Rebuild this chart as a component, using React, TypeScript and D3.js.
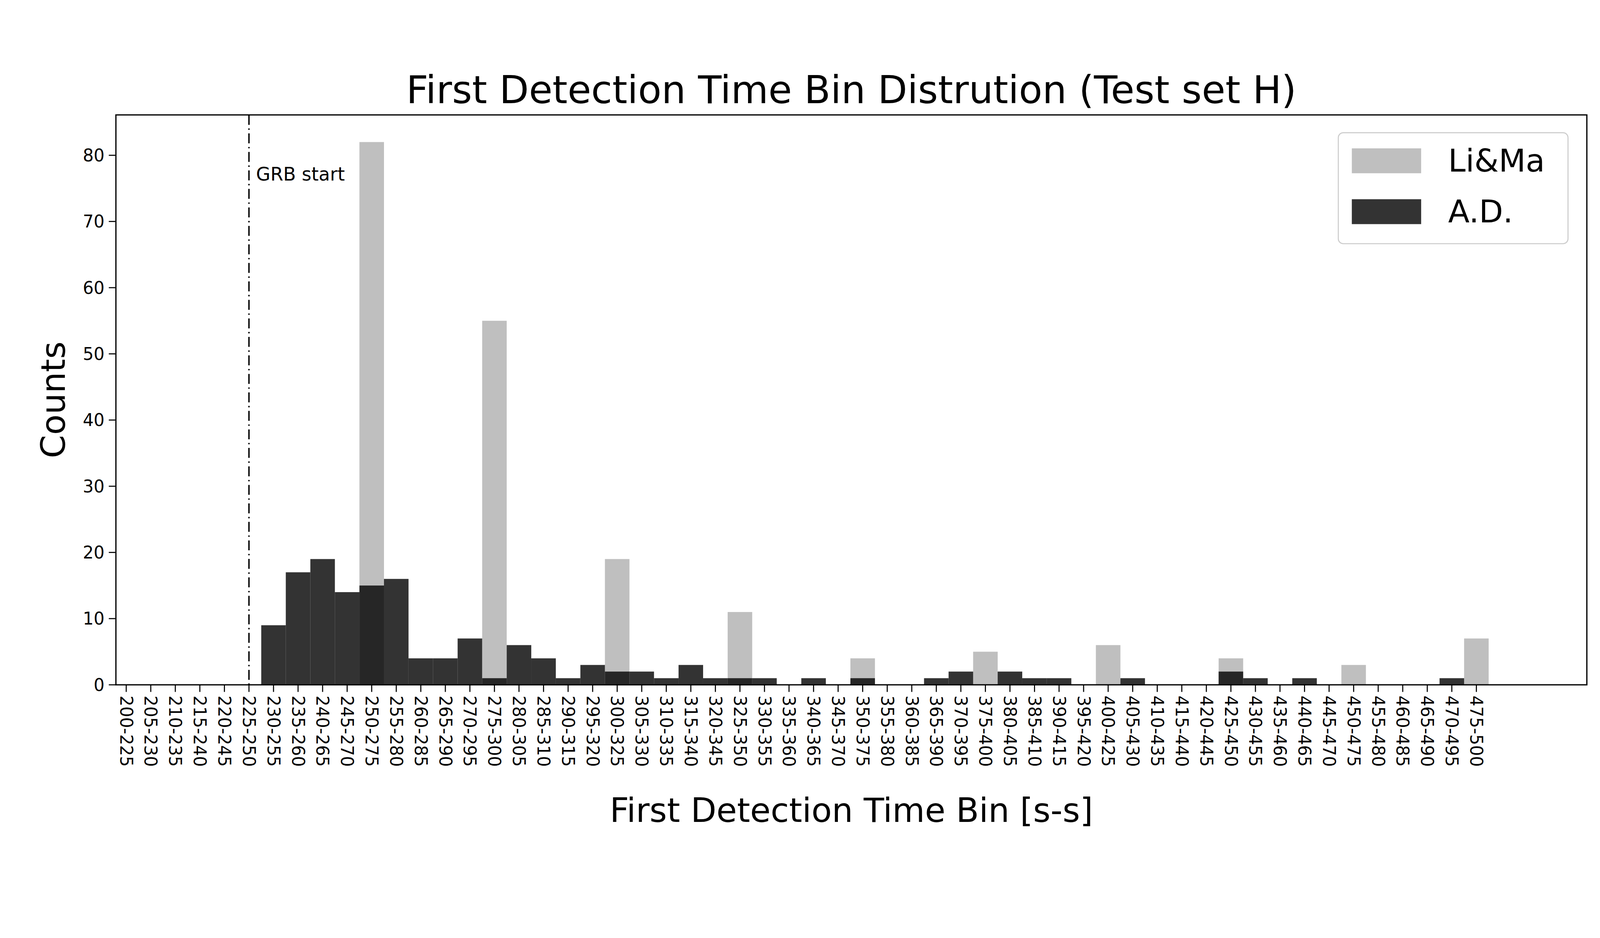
import React from "react";
import * as d3 from "d3";

const binStarts: number[] = d3.range(200, 480, 5);
const categories: string[] = binStarts.map((s) => `${s}-${s + 25}`);
const adValues: number[] = [
  0, 0, 0, 0, 0, 0, 9, 17, 19, 14, 15, 16, 4, 4, 7, 1, 6, 4, 1, 3, 2, 2, 1, 3, 1, 1, 1, 0,
  1, 0, 1, 0, 0, 1, 2, 0, 2, 1, 1, 0, 0, 1, 0, 0, 0, 2, 1, 0, 1, 0, 0, 0, 0, 0, 1, 0,
];
const limaValues: number[] = [
  0, 0, 0, 0, 0, 0, 0, 0, 0, 0, 82, 0, 0, 0, 0, 55, 0, 0, 0, 0, 19, 0, 0, 0, 0, 11, 0, 0,
  0, 0, 4, 0, 0, 0, 0, 5, 0, 0, 0, 0, 6, 0, 0, 0, 0, 4, 0, 0, 0, 0, 3, 0, 0, 0, 0, 7,
];
const yTicks: number[] = d3.range(0, 90, 10);
const grbIndex = 5;

export default function App() {
  const W = 4500, H = 2400;
  const L = 326, R = 4463, T = 323, B = 1925;
  const x = d3.scaleLinear().domain([-0.42, 59.5]).range([L, R]);
  const y = d3.scaleLinear().domain([0, 86.1]).range([B, T]);
  const bw = x(1) - x(0);
  const font = "DejaVu Sans, sans-serif";
  return (
    <svg width={W} height={H} viewBox={`0 0 ${W} ${H}`}
      style={{ display: "block", background: "#fff", position: "fixed", left: 0, top: 0, width: "100vw", height: "auto" }}
      fontFamily={font}>
      <defs>
        <clipPath id="pc"><rect x={L} y={T} width={R - L} height={B - T} /></clipPath>
      </defs>
      <g clipPath="url(#pc)">
        {limaValues.map((v, i) => v > 0 && (
          <rect key={"l" + i} x={x(i) - bw / 2} y={y(v)} width={bw} height={B - y(v)} fill="#bfbfbf" />
        ))}
        {adValues.map((v, i) => v > 0 && (
          <rect key={"a" + i} x={x(i) - bw / 2} y={y(v)} width={bw} height={B - y(v)} fill="#000" fillOpacity={0.8} />
        ))}
        <line x1={x(grbIndex)} x2={x(grbIndex)} y1={T} y2={B} stroke="#000" strokeWidth={4} strokeDasharray="28 10 4 10" />
      </g>
      <text x={x(grbIndex) + 20} y={508} fontSize={52}>GRB start</text>
      <rect x={L} y={T} width={R - L} height={B - T} fill="none" stroke="#000" strokeWidth={3.5} />
      {yTicks.map((t) => (
        <g key={t}>
          <line x1={L - 20} x2={L} y1={y(t)} y2={y(t)} stroke="#000" strokeWidth={3} />
          <text x={L - 32} y={y(t)} fontSize={48} textAnchor="end" dominantBaseline="central">{t}</text>
        </g>
      ))}
      {categories.map((c, i) => (
        <g key={c}>
          <line x1={x(i)} x2={x(i)} y1={B} y2={B + 20} stroke="#000" strokeWidth={3} />
          <text transform={`translate(${x(i)},${B + 30}) rotate(90)`} fontSize={48} textAnchor="start" dominantBaseline="central">{c}</text>
        </g>
      ))}
      <text x={(L + R) / 2} y={290} fontSize={108} textAnchor="middle">First Detection Time Bin Distrution (Test set H)</text>
      <text x={(L + R) / 2} y={2310} fontSize={94} textAnchor="middle">First Detection Time Bin [s-s]</text>
      <text transform={`translate(150,${(T + B) / 2}) rotate(-90)`} fontSize={94} textAnchor="middle" dominantBaseline="central">Counts</text>
      <g>
        <rect x={3764} y={373} width={646} height={312} rx={14} fill="#fff" stroke="#ccc" strokeWidth={3} />
        <rect x={3802} y={417} width={195} height={70} fill="#bfbfbf" />
        <rect x={3802} y={560} width={195} height={70} fill="#000" fillOpacity={0.8} />
        <text x={4073} y={452} fontSize={88} dominantBaseline="central">Li&amp;Ma</text>
        <text x={4073} y={595} fontSize={88} dominantBaseline="central">A.D.</text>
      </g>
    </svg>
  );
}
